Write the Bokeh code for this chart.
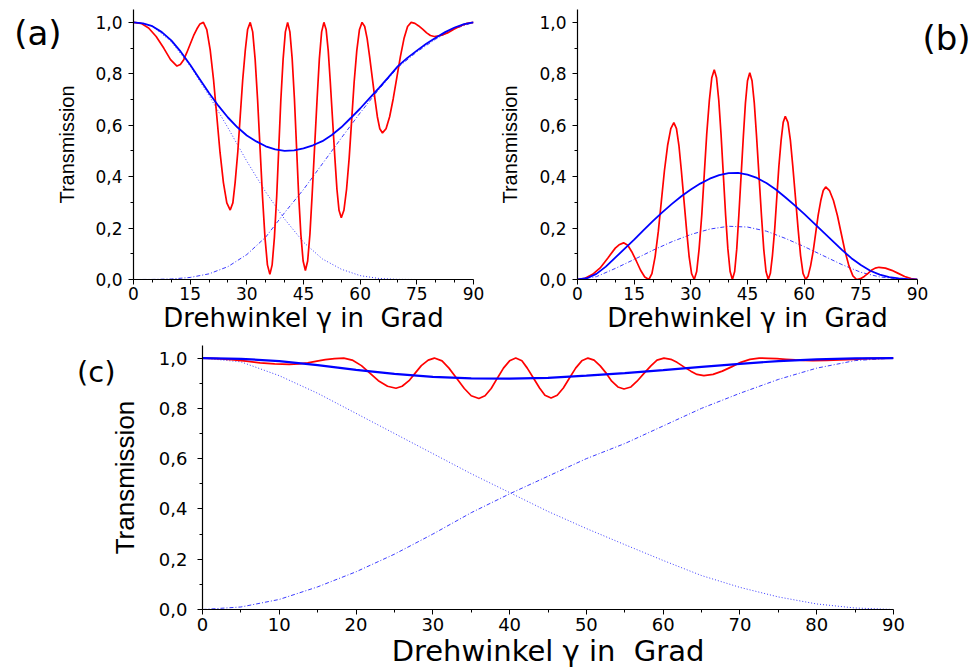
from bokeh.plotting import figure
from bokeh.layouts import column, row
from bokeh.models import Range1d, FixedTicker, CustomJSTickFormatter, LinearAxis
from bokeh.embed import file_html
from bokeh.resources import INLINE

# ---------------- data ----------------
X5 = [0, 5, 10, 15, 20, 25, 30, 35, 40, 45, 50, 55, 60, 65, 70, 75, 80, 85, 90]
X25 = [0, 2.5, 5, 7.5, 10, 12.5, 15, 17.5, 20, 22.5, 25, 27.5, 30, 32.5, 35, 37.5,
       40, 42.5, 45, 47.5, 50, 52.5, 55, 57.5, 60, 62.5, 65, 67.5, 70, 72.5, 75,
       77.5, 80, 82.5, 85, 87.5, 90]

# panel (a)
BLUE_A = [1.0, 0.996, 0.985, 0.962, 0.93, 0.886, 0.835, 0.78, 0.725, 0.675, 0.63,
          0.592, 0.56, 0.537, 0.518, 0.506, 0.50, 0.502, 0.51, 0.522, 0.538, 0.562,
          0.592, 0.628, 0.665, 0.705, 0.745, 0.787, 0.83, 0.862, 0.89, 0.917, 0.94,
          0.962, 0.98, 0.993, 1.0]
DOT_A = [1.0, 0.985, 0.925, 0.83, 0.715, 0.59, 0.46, 0.34, 0.235, 0.145, 0.08,
         0.04, 0.015, 0.004, 0.0005, 0.0, 0.0, 0.0, 0.0]
DASH_A = [0.0, 0.0003, 0.002, 0.008, 0.022, 0.05, 0.097, 0.165, 0.26, 0.35, 0.45,
          0.55, 0.648, 0.74, 0.825, 0.885, 0.935, 0.975, 1.0]
RED_A_X = [0, 2, 4, 6, 8, 9.8, 11.5,
           12.4, 13.3, 14.1, 15.0, 15.9, 16.8, 17.6, 18.5,
           19.4, 20.3, 21.2, 22.05, 22.9, 23.8, 24.7, 25.6,
           26.3, 26.9, 27.6, 28.25, 28.9, 29.6, 30.2, 30.9,
           31.55, 32.2, 32.85, 33.5, 34.15, 34.8, 35.45, 36.1,
           36.7, 37.3, 37.9, 38.45, 39.0, 39.6, 40.2, 40.8,
           41.4, 42.0, 42.6, 43.15, 43.7, 44.3, 44.9, 45.5,
           46.1, 46.7, 47.3, 47.95, 48.6, 49.2, 49.8, 50.4,
           51.0, 51.55, 52.1, 52.7, 53.3, 53.85, 54.4, 55.0,
           55.7, 56.4, 57.1, 57.75, 58.4, 59.1, 59.8, 60.5,
           61.2, 61.85, 62.5, 63.2, 63.9, 64.55, 65.2, 65.9,
           66.85, 67.8, 68.75, 69.7, 70.65, 71.6, 72.55, 73.5,
           74.5, 75.5, 76.6, 77.6, 78.6, 79.6,
           81.3, 83.1, 84.8, 86.5, 88.3, 90]
RED_A_Y = [1.0, 0.996, 0.978, 0.945, 0.9, 0.855, 0.83,
           0.836, 0.855, 0.882, 0.915, 0.948, 0.975, 0.994, 1.0,
           0.972, 0.893, 0.775, 0.635, 0.495, 0.377, 0.298, 0.27,
           0.298, 0.377, 0.495, 0.635, 0.775, 0.893, 0.972, 1.0,
           0.963, 0.856, 0.698, 0.51, 0.322, 0.164, 0.057, 0.02,
           0.057, 0.164, 0.322, 0.51, 0.698, 0.856, 0.963, 1.0,
           0.963, 0.859, 0.702, 0.518, 0.333, 0.176, 0.072, 0.035,
           0.072, 0.176, 0.333, 0.518, 0.702, 0.859, 0.963, 1.0,
           0.971, 0.889, 0.766, 0.62, 0.474, 0.351, 0.269, 0.24,
           0.269, 0.351, 0.474, 0.62, 0.766, 0.889, 0.971, 1.0,
           0.984, 0.937, 0.867, 0.785, 0.703, 0.633, 0.586, 0.57,
           0.586, 0.633, 0.703, 0.785, 0.867, 0.937, 0.984, 1.0,
           0.996, 0.986, 0.973, 0.959, 0.949, 0.945,
           0.949, 0.959, 0.973, 0.986, 0.996, 1.0]

# panel (b)
BLUE_B = [0.0, 0.005, 0.022, 0.05, 0.085, 0.12, 0.155, 0.192, 0.228, 0.262, 0.294,
          0.324, 0.35, 0.373, 0.392, 0.406, 0.414, 0.415, 0.408, 0.395, 0.375, 0.35,
          0.32, 0.288, 0.255, 0.22, 0.185, 0.15, 0.115, 0.083, 0.056, 0.034, 0.019,
          0.009, 0.004, 0.001, 0.0]
DASH_B = [0.0, 0.011, 0.043, 0.078, 0.114, 0.147, 0.175, 0.196, 0.207, 0.204, 0.188,
          0.16, 0.128, 0.093, 0.058, 0.028, 0.01, 0.002, 0.0]
RED_B_X = [0, 2, 4, 6, 8, 10, 11, 12.2,
           13.3, 14.4, 15.6, 16.7, 17.8, 18.9,
           19.7, 20.55, 21.4, 22.2, 23.0, 23.85, 24.7, 25.5,
           26.2, 26.85, 27.5, 28.2, 28.9, 29.55, 30.2, 30.9,
           31.55, 32.2, 32.9, 33.55, 34.2, 34.9, 35.55, 36.2,
           36.8, 37.4, 38.0, 38.6, 39.2, 39.8, 40.4, 41.0,
           41.6, 42.15, 42.7, 43.3, 43.9, 44.45, 45.0, 45.6,
           46.2, 46.8, 47.4, 48.05, 48.7, 49.3, 49.9, 50.5,
           51.05, 51.6, 52.2, 52.75, 53.3, 53.9, 54.45, 55.0,
           55.7, 56.35, 57.0, 57.7, 58.4, 59.05, 59.7, 60.4,
           61.05, 61.7, 62.4, 63.05, 63.7, 64.4, 65.05, 65.7,
           66.7, 67.75, 68.8, 69.8, 70.8, 71.85, 72.9, 73.9,
           74.9, 75.9, 76.9, 77.8, 78.8, 79.8,
           81.5, 83.2, 84.9, 86.6, 88.3, 90]
RED_B_Y = [0.0, 0.005, 0.02, 0.045, 0.083, 0.122, 0.135, 0.1425,
           0.133, 0.107, 0.071, 0.036, 0.0095, 0.0,
           0.023, 0.089, 0.188, 0.305, 0.422, 0.521, 0.587, 0.61,
           0.587, 0.521, 0.422, 0.305, 0.188, 0.089, 0.023, 0.0,
           0.031, 0.12, 0.252, 0.408, 0.564, 0.696, 0.785, 0.816,
           0.785, 0.696, 0.564, 0.408, 0.252, 0.12, 0.031, 0.0,
           0.031, 0.118, 0.248, 0.402, 0.556, 0.686, 0.773, 0.804,
           0.773, 0.686, 0.556, 0.402, 0.248, 0.118, 0.031, 0.0,
           0.024, 0.093, 0.196, 0.318, 0.439, 0.542, 0.611, 0.635,
           0.611, 0.542, 0.439, 0.318, 0.196, 0.093, 0.024, 0.0,
           0.014, 0.053, 0.111, 0.18, 0.249, 0.307, 0.346, 0.36,
           0.346, 0.307, 0.249, 0.18, 0.111, 0.053, 0.014, 0.0,
           0.0032, 0.0119, 0.0238, 0.0356, 0.0443, 0.0475,
           0.0443, 0.0356, 0.0238, 0.0119, 0.0032, 0.0]

# panel (c)
BLUE_C = [1.0, 0.997, 0.988, 0.972, 0.953, 0.937, 0.925, 0.919, 0.918, 0.921, 0.93,
          0.94, 0.952, 0.965, 0.977, 0.988, 0.995, 0.999, 1.0]
DOT_C = [1.0, 0.985, 0.93, 0.86, 0.78, 0.70, 0.62, 0.54, 0.465, 0.39, 0.322, 0.258,
         0.195, 0.135, 0.088, 0.05, 0.022, 0.006, 0.0]
DASH_C = [0.0, 0.01, 0.04, 0.09, 0.15, 0.22, 0.30, 0.385, 0.46, 0.53, 0.60, 0.66,
          0.73, 0.80, 0.86, 0.915, 0.96, 0.99, 1.0]
RED_C_X = [0, 1.9, 3.8, 5.7, 7.5, 9.4, 11.3,
           12.5, 13.7, 14.9, 16.0, 17.2, 18.4,
           19.5, 20.7, 21.8, 22.9, 24.1, 25.2,
           26.0, 26.9, 27.7, 28.5, 29.4, 30.2,
           31.2, 32.1, 33.1, 34.1, 35.0, 36.0,
           36.8, 37.6, 38.4, 39.2, 40.0, 40.8,
           41.6, 42.3, 43.1, 43.9, 44.6, 45.4,
           46.2, 47.0, 47.8, 48.6, 49.4, 50.2,
           51.0, 51.8, 52.6, 53.3, 54.1, 54.9,
           55.8, 56.6, 57.5, 58.4, 59.2, 60.1,
           61.0, 61.8, 62.7, 63.6, 64.4, 65.3,
           66.5, 67.7, 68.9, 70.1, 71.3, 72.5,
           73.7, 74.8, 76.0, 77.2, 78.3, 79.5,
           81.3, 83.0, 84.8, 86.5, 88.3, 90]
RED_C_Y = [1.0, 0.998, 0.994, 0.988, 0.981, 0.977, 0.975,
           0.977, 0.981, 0.988, 0.994, 0.998, 1.0,
           0.992, 0.97, 0.94, 0.91, 0.888, 0.88,
           0.888, 0.91, 0.94, 0.97, 0.992, 1.0,
           0.989, 0.96, 0.92, 0.879, 0.85, 0.839,
           0.85, 0.879, 0.92, 0.96, 0.989, 1.0,
           0.989, 0.96, 0.921, 0.881, 0.852, 0.841,
           0.852, 0.881, 0.921, 0.96, 0.989, 1.0,
           0.992, 0.969, 0.939, 0.908, 0.885, 0.877,
           0.885, 0.908, 0.939, 0.969, 0.992, 1.0,
           0.995, 0.983, 0.965, 0.948, 0.935, 0.93,
           0.935, 0.948, 0.965, 0.983, 0.995, 1.0,
           0.999, 0.9975, 0.995, 0.9925, 0.991, 0.99,
           0.991, 0.9925, 0.995, 0.9975, 0.999, 1.0]

Y_TICKS = [0.0, 0.2, 0.4, 0.6, 0.8, 1.0]
Y_MINOR = [0.1, 0.3, 0.5, 0.7, 0.9]
X_TICKS_AB = [0, 15, 30, 45, 60, 75, 90]
X_MINOR_AB = [5, 10, 20, 25, 35, 40, 50, 55, 65, 70, 80, 85]
X_TICKS_C = [0, 10, 20, 30, 40, 50, 60, 70, 80, 90]
X_MINOR_C = [5, 15, 25, 35, 45, 55, 65, 75, 85]

X_LABEL = "Drehwinkel \u03b3 in \u00a0Grad"
Y_LABEL = "Transmission"
PANEL_LABELS = ["(a)", "(b)", "(c)"]
PANEL_LABEL_Y = [0.96, 0.94, 0.945]

TICK_FONT = "DejaVu Sans"
LABEL_FONT = "DejaVu Sans"
YLAB_FONT = "Liberation Sans"

RED = "#ff0000"
BLUE = "#0000ff"
LIGHT_BLUE = "#3a3aff"


def make_panel(w, h, bl, br, bt, bb, xt, xm, tick_size, xlab_size, ylab_size,
               ylab_standoff, ytick_standoff, xtick_standoff, xlab_standoff):
    p = figure(width=w, height=h, x_range=Range1d(0, 90), y_range=Range1d(0, 1.05),
               output_backend="svg", toolbar_location=None,
               min_border_left=bl, min_border_right=br,
               min_border_top=bt, min_border_bottom=bb)
    p.xgrid.visible = False
    p.ygrid.visible = False
    p.outline_line_color = None
    p.background_fill_color = "white"
    p.border_fill_color = "white"

    xa = p.xaxis[0]
    xa.ticker = FixedTicker(ticks=xt, minor_ticks=xm)
    xa.axis_label = X_LABEL
    xa.axis_label_text_font = LABEL_FONT
    xa.axis_label_text_font_style = "normal"
    xa.axis_label_text_font_size = f"{xlab_size}px"
    xa.axis_label_text_color = "black"
    xa.axis_label_standoff = xlab_standoff
    xa.major_label_text_font = TICK_FONT
    xa.major_label_text_font_size = f"{tick_size}px"
    xa.major_label_text_color = "black"
    xa.major_label_standoff = xtick_standoff

    ya = p.yaxis[0]
    ya.ticker = FixedTicker(ticks=Y_TICKS, minor_ticks=Y_MINOR)
    ya.formatter = CustomJSTickFormatter(code="return tick.toFixed(1).replace('.', ',');")
    ya.axis_label = Y_LABEL
    ya.axis_label_text_font = YLAB_FONT
    ya.axis_label_text_font_style = "normal"
    ya.axis_label_text_font_size = f"{ylab_size}px"
    ya.axis_label_text_color = "black"
    ya.axis_label_standoff = ylab_standoff
    ya.major_label_text_font = TICK_FONT
    ya.major_label_text_font_size = f"{tick_size}px"
    ya.major_label_text_color = "black"
    ya.major_label_standoff = ytick_standoff

    for ax in (xa, ya):
        ax.axis_line_color = "black"
        ax.axis_line_width = 1.2
        ax.major_tick_line_color = "black"
        ax.minor_tick_line_color = "black"
        ax.major_tick_in = 0
        ax.major_tick_out = 5
        ax.minor_tick_in = 0
        ax.minor_tick_out = 3
    return p


def add_panel_label(p, side, yval, text, size, standoff):
    # an axis without line/ticks that carries the panel letter as its only label
    ax = LinearAxis(ticker=FixedTicker(ticks=[yval], minor_ticks=[]),
                    formatter=CustomJSTickFormatter(code="return '%s';" % text),
                    axis_line_color=None, major_tick_line_color=None,
                    minor_tick_line_color=None, major_tick_in=0, major_tick_out=0,
                    minor_tick_in=0, minor_tick_out=0,
                    major_label_text_font=LABEL_FONT,
                    major_label_text_font_size=f"{size}px",
                    major_label_text_color="black",
                    major_label_standoff=standoff)
    p.add_layout(ax, side)


# ---- (a)
pa = make_panel(490, 335, 133, 17, 6, 49, X_TICKS_AB, X_MINOR_AB, 17, 26, 20, 14, 6, 2, 0)
pa.line(X5, DOT_A, line_color=LIGHT_BLUE, line_width=1, line_dash="1 2")
pa.line(X5, DASH_A, line_color=LIGHT_BLUE, line_width=1, line_dash="4 2 1 2")
pa.line(RED_A_X, RED_A_Y, line_color=RED, line_width=1.7)
pa.line(X25, BLUE_A, line_color=BLUE, line_width=1.8)
add_panel_label(pa, "left", PANEL_LABEL_Y[0], PANEL_LABELS[0], 34, -8)

# ---- (b)
pb = make_panel(484, 335, 87, 57, 9, 46, X_TICKS_AB, X_MINOR_AB, 17, 26, 20, 15, 6, 2, 0)
pb.line(X5, DASH_B, line_color=LIGHT_BLUE, line_width=1, line_dash="4 2 1 2")
pb.line(RED_B_X, RED_B_Y, line_color=RED, line_width=1.7)
pb.line(X25, BLUE_B, line_color=BLUE, line_width=1.8)
add_panel_label(pb, "right", PANEL_LABEL_Y[1], PANEL_LABELS[1], 34, 5)

# ---- (c)
pc = make_panel(974, 335, 202, 81, 10, 58, X_TICKS_C, X_MINOR_C, 18, 29, 26, 16, 10, 3, 0)
pc.line(X5, DOT_C, line_color=LIGHT_BLUE, line_width=1, line_dash="1 2")
pc.line(X5, DASH_C, line_color=LIGHT_BLUE, line_width=1, line_dash="4 2 1 2")
pc.line(RED_C_X, RED_C_Y, line_color=RED, line_width=1.7)
pc.line(X5, BLUE_C, line_color=BLUE, line_width=2.2)
add_panel_label(pc, "left", PANEL_LABEL_Y[2], PANEL_LABELS[2], 29, -9)

layout = column(row(pa, pb), pc)

open("out.html", "w").write(file_html(layout, INLINE))
